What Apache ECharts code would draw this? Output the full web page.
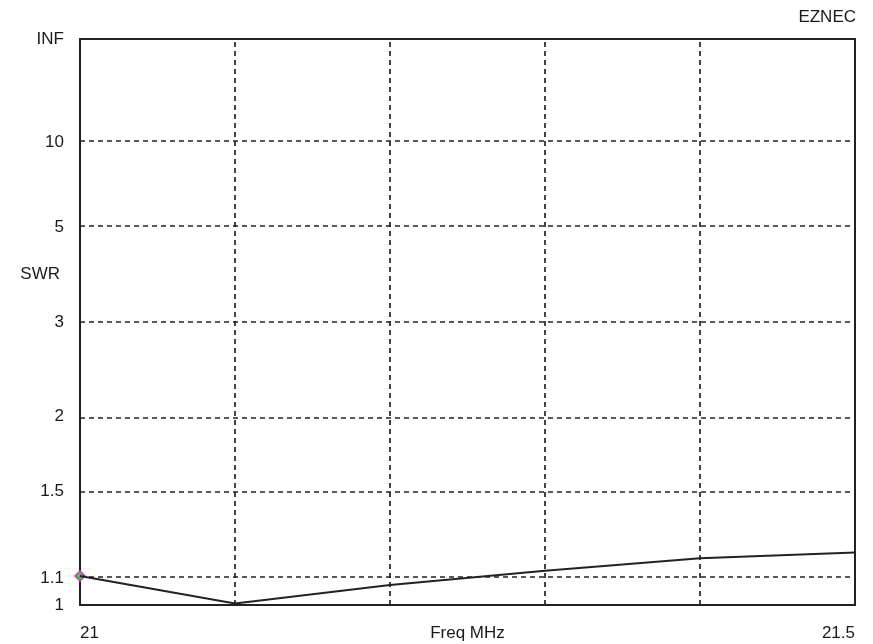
<!DOCTYPE html>
<html>
<head>
<meta charset="utf-8">
<script src="https://cdn.jsdelivr.net/npm/echarts@6/dist/echarts.min.js"></script>
<style>
html,body{margin:0;padding:0;background:#fff;}
#c{width:873px;height:644px;}
</style>
</head>
<body>
<div id="c"></div>
<script>
// Data
var freqMHz = [21.0, 21.1, 21.2, 21.3, 21.4, 21.5];
var swrValues = [1.108, 1.005, 1.073, 1.129, 1.180, 1.205];
var swrTickLabels = ['1', '1.1', '1.5', '2', '3', '5', '10', 'INF'];
var swrTickValues = [1, 1.1, 1.5, 2, 3, 5, 10, Infinity];
var freqGridLines = [21.1, 21.2, 21.3, 21.4];

// EZNEC SWR scale: position is linear in reflection coefficient
function gamma(s) { return s === Infinity ? 1 : (s - 1) / (s + 1); }
var tickPos = swrTickValues.map(gamma);
var lineData = freqMHz.map(function (f, i) { return [f, gamma(swrValues[i])]; });

var FONT = 'Liberation Sans, Arial, sans-serif';
var TXT = '#1a1a1a';

var markLines = [];
tickPos.slice(1, -1).forEach(function (g) { markLines.push({ yAxis: g }); });
freqGridLines.forEach(function (f) { markLines.push({ xAxis: f }); });

var chart = echarts.init(document.getElementById('c'), null, { renderer: 'canvas' });
chart.setOption({
  animation: false,
  backgroundColor: '#ffffff',
  grid: { left: 80, right: 18, top: 39, bottom: 39, containLabel: false, outerBoundsMode: 'none',
    show: true, borderColor: '#222', borderWidth: 2, backgroundColor: 'transparent' },
  xAxis: {
    type: 'value', min: 21, max: 21.5, interval: 0.5,
    axisLine: { show: false }, axisTick: { show: false }, splitLine: { show: false },
    axisLabel: { color: TXT, fontFamily: FONT, fontSize: 17, margin: 20, alignMinLabel: 'left', alignMaxLabel: 'right',
      formatter: function (v) { return String(+v.toFixed(2)); } },
    name: 'Freq MHz', nameLocation: 'middle', nameGap: 20, nameMoveOverlap: false,
    nameTextStyle: { color: TXT, fontFamily: FONT, fontSize: 17, verticalAlign: 'top' }
  },
  yAxis: {
    type: 'value', min: 0, max: 1,
    axisLine: { show: false }, axisTick: { show: false }, splitLine: { show: false },
    axisLabel: {
      color: TXT, fontFamily: FONT, fontSize: 17, margin: 16,
      customValues: tickPos,
      formatter: function (v) {
        var best = 0, d = 1e9;
        tickPos.forEach(function (p, i) { if (Math.abs(p - v) < d) { d = Math.abs(p - v); best = i; } });
        return swrTickLabels[best];
      }
    }
  },
  graphic: [
    { type: 'text', right: 873 - 60, top: 266, style: { text: 'SWR', fill: TXT, font: '17px ' + FONT } },
    { type: 'text', right: 17, top: 9, style: { text: 'EZNEC', fill: TXT, font: '17px ' + FONT } }
  ],
  series: [{
    type: 'line',
    data: lineData,
    symbol: 'none',
    clip: false,
    lineStyle: { color: '#222', width: 2 },
    markLine: {
      silent: true, symbol: 'none', label: { show: false },
      lineStyle: { color: '#222', type: [5, 4], width: 1.7 },
      data: markLines
    },
    markPoint: {
      silent: true, symbol: 'diamond', symbolSize: 10,
      itemStyle: { color: '#22dd22', borderColor: '#ee22ee', borderWidth: 1.5, opacity: 1 },
      label: { show: false },
      data: [{ coord: lineData[0] }]
    },
    z: 10
  }]
});
</script>
</body>
</html>
